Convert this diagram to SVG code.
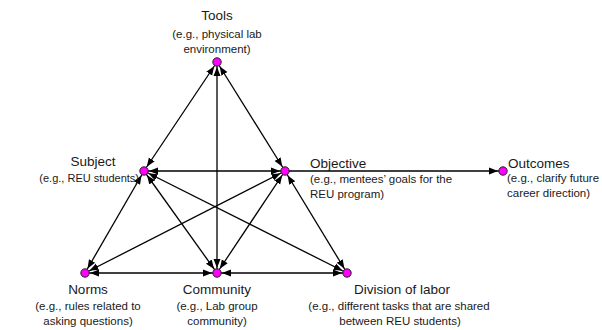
<svg xmlns="http://www.w3.org/2000/svg" width="602" height="330" viewBox="0 0 602 330">
<style>
.t{font-family:"Liberation Sans",Arial,sans-serif;font-size:13.5px;fill:#1a1a1a}
.s{font-family:"Liberation Sans",Arial,sans-serif;font-size:11.5px;fill:#1a1a1a}
.m{text-anchor:middle}
.e{stroke:#000;stroke-width:1.3;fill:none;marker-end:url(#ah)}
.b{marker-start:url(#ah)}
.dot{fill:#ff00ff;stroke:#222;stroke-width:1}
</style>
<defs>
<marker id="ah" markerUnits="userSpaceOnUse" markerWidth="16" markerHeight="10" refX="14" refY="3.5" orient="auto-start-reverse" viewBox="0 0 16 7">
<path d="M0,0 L9,3.5 L0,7 Z" fill="#000"/>
</marker>
</defs>
<g id="connectors">
<line class="e b" x1="217" y1="62" x2="144" y2="171"/>
<line class="e b" x1="217" y1="62" x2="285" y2="171"/>
<line class="e b" x1="217" y1="62" x2="217" y2="273"/>
<line class="e b" x1="144" y1="171" x2="285" y2="171"/>
<line class="e b" x1="144" y1="171" x2="85" y2="273"/>
<line class="e b" x1="144" y1="171" x2="217" y2="273"/>
<line class="e b" x1="144" y1="171" x2="347" y2="273"/>
<line class="e b" x1="285" y1="171" x2="85" y2="273"/>
<line class="e b" x1="285" y1="171" x2="217" y2="273"/>
<line class="e b" x1="285" y1="171" x2="347" y2="273"/>
<line class="e b" x1="85" y1="273" x2="217" y2="273"/>
<line class="e b" x1="217" y1="273" x2="347" y2="273"/>
<line class="e" x1="285" y1="171" x2="503" y2="171"/>
</g>
<g id="tools">
<circle class="dot" cx="217" cy="62" r="4.2"/>
<text class="t m" x="217" y="20">Tools</text>
<text class="s m" x="217" y="38">(e.g., physical lab</text>
<text class="s m" x="217" y="53">environment)</text>
</g>
<g id="subject">
<circle class="dot" cx="144" cy="171" r="4.2"/>
<text class="t m" x="93" y="166">Subject</text>
<text class="s" x="139" y="182" text-anchor="end" style="font-size:11px">(e.g., REU students)</text>
</g>
<g id="objective">
<circle class="dot" cx="285" cy="171" r="4.2"/>
<text class="t" x="310" y="168">Objective</text>
<text class="s" x="310" y="183">(e.g., mentees’ goals for the</text>
<text class="s" x="310" y="198">REU program)</text>
</g>
<g id="outcomes">
<circle class="dot" cx="503" cy="171" r="4.2"/>
<text class="t" x="508" y="168">Outcomes</text>
<text class="s" x="507" y="182">(e.g., clarify future</text>
<text class="s" x="507" y="197">career direction)</text>
</g>
<g id="norms">
<circle class="dot" cx="85" cy="273" r="4.2"/>
<text class="t m" x="88" y="294">Norms</text>
<text class="s m" x="88" y="310">(e.g., rules related to</text>
<text class="s m" x="88" y="325">asking questions)</text>
</g>
<g id="community">
<circle class="dot" cx="217" cy="273" r="4.2"/>
<text class="t m" x="217" y="294">Community</text>
<text class="s m" x="217" y="310">(e.g., Lab group</text>
<text class="s m" x="217" y="325">community)</text>
</g>
<g id="division">
<circle class="dot" cx="347" cy="273" r="4.2"/>
<text class="t m" x="402" y="294">Division of labor</text>
<text class="s m" x="399" y="310">(e.g., different tasks that are shared</text>
<text class="s m" x="400" y="325">between REU students)</text>
</g>
</svg>
